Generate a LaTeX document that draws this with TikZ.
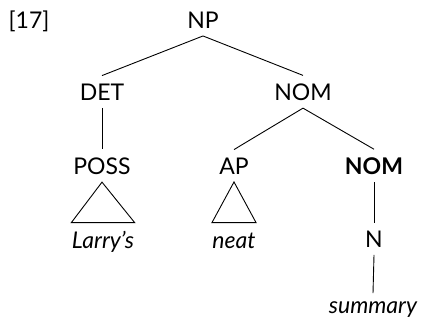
\documentclass[tikz,border=0pt]{standalone}
\usepackage{fontspec}
\setmainfont{Lato}
\begin{document}
\fontsize{23}{27}\selectfont
\begin{tikzpicture}[x=1pt,y=-1pt,line width=0.9pt,
  cat/.style={inner sep=7.5pt,anchor=base},
  leaf/.style={inner xsep=0pt,inner ysep=7.5pt,anchor=base,font=\itshape},
  trileaf/.style={leaf,text height=15pt,inner ysep=10pt}]
\useasboundingbox (0,0) rectangle (423,325);
\node[anchor=base] (ex) at (29,28) {[17]};
\node[cat] (np) at (203,28) {NP};
\node[cat] (det) at (102,100) {DET}; \node[cat] (nom) at (303,100) {NOM};
\node[cat] (poss) at (102,174) {POSS}; \node[cat] (ap) at (234,174) {AP}; \node[cat,font=\bfseries] (nomb) at (374,174) {NOM};
\node[trileaf] (larry) at (103,248) {Larry’s}; \node[trileaf] (neat) at (234,248) {neat};
\node[cat] (n) at (374,247) {N}; \node[leaf] (summ) at (373,313) {summary};
\draw (np.south) -- (det.north); \draw (np.south) -- (nom.north);
\draw (det.south) -- (poss.north);
\draw (nom.south) -- (ap.north); \draw (nom.south) -- (nomb.north);
\draw (poss.south) -- (larry.north east) -- (larry.north west) -- cycle;
\draw (ap.south) -- (neat.north east) -- (neat.north west) -- cycle;
\draw (nomb.south) -- (n.north); \draw (n.south) -- (summ.north);
\end{tikzpicture}
\end{document}
